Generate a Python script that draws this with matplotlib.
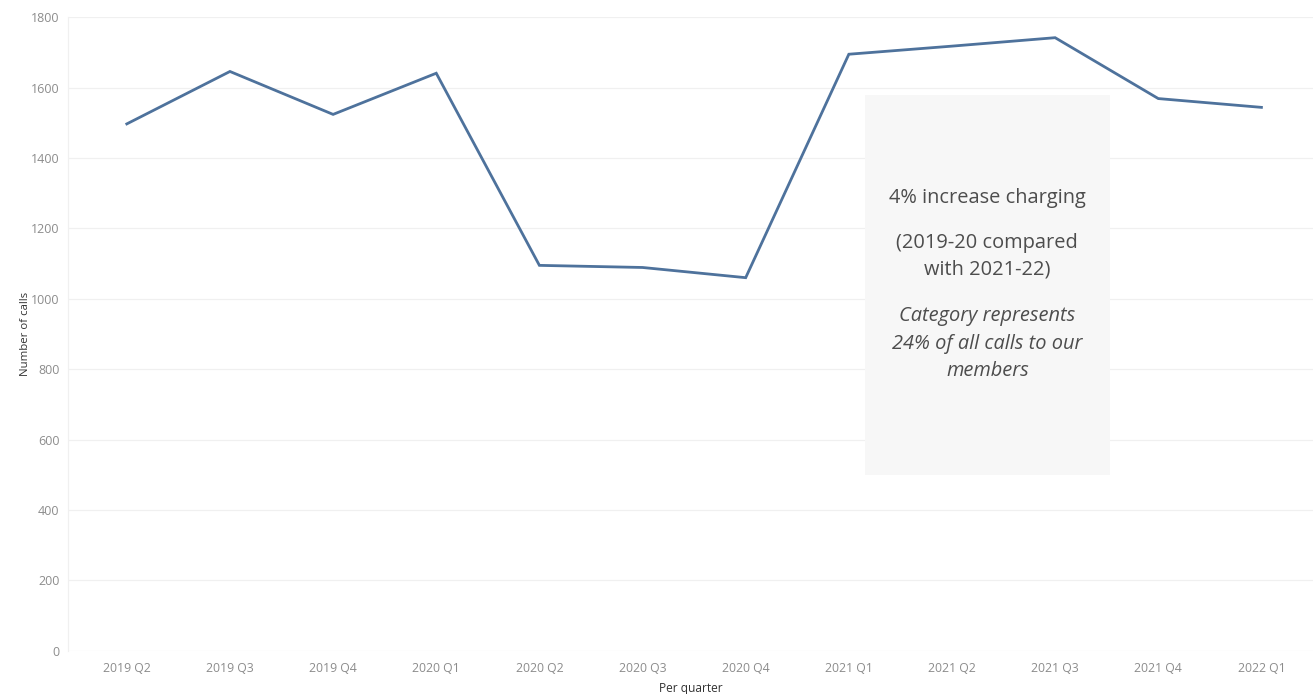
import matplotlib
matplotlib.use("Agg")
import matplotlib.pyplot as plt
from matplotlib.patches import Rectangle

plt.rcParams['font.family'] = ['Open Sans', 'DejaVu Sans']

quarters = ["2019 Q2", "2019 Q3", "2019 Q4", "2020 Q1", "2020 Q2", "2020 Q3",
            "2020 Q4", "2021 Q1", "2021 Q2", "2021 Q3", "2021 Q4", "2022 Q1"]
calls = [1497, 1646, 1524, 1641, 1095, 1089, 1060, 1695, 1718, 1742, 1569, 1544]
y_ticks = [0, 200, 400, 600, 800, 1000, 1200, 1400, 1600, 1800]

note_lines = ["4% increase charging", "(2019-20 compared", "with 2021-22)"]
note_italic = ["Category represents", "24% of all calls to our", "members"]

fig = plt.figure(figsize=(13.13, 6.94), dpi=100)
ax = fig.add_axes([0.0518, 0.0624, 0.9482, 0.9127])

x = list(range(len(quarters)))
ax.plot(x, calls, color="#4e729c", linewidth=2.0, zorder=3, solid_joinstyle="miter")

ax.set_xlim(-0.57, 11.5)
ax.set_ylim(0, 1800)
ax.set_xticks(x)
ax.set_xticklabels(quarters)
ax.set_yticks(y_ticks)
ax.set_yticklabels([str(v) for v in y_ticks])
ax.tick_params(axis="both", length=0, labelcolor="#8c8c8c")
ax.tick_params(axis="x", labelsize=8.8, pad=8.5)
ax.tick_params(axis="y", labelsize=9.0, pad=6)

ax.grid(axis="y", color="#f0f0f0", linewidth=0.9, zorder=0)
ax.set_axisbelow(True)
for side in ["top", "right", "bottom"]:
    ax.spines[side].set_visible(False)
ax.spines["left"].set_color("#f0f0f0")
ax.spines["left"].set_linewidth(0.9)

ax.set_xlabel("Per quarter", fontsize=8.6, color="#333333", labelpad=5)
ax.set_ylabel("Number of calls", fontsize=8.2, color="#333333", labelpad=0)

# annotation panel
ax.add_patch(Rectangle((7.157, 499), 2.373, 1080, facecolor="#f7f7f7",
                       edgecolor="none", zorder=1))
cx = 8.343
line_y = [1286, 1158, 1082]
italic_y = [951, 872, 795]
for txt, yy in zip(note_lines, line_y):
    ax.text(cx, yy, txt, ha="center", va="center", fontsize=14.4,
            color="#4d4d4d", zorder=2)
for txt, yy in zip(note_italic, italic_y):
    ax.text(cx, yy, txt, ha="center", va="center", fontsize=14.4,
            style="italic", color="#4d4d4d", zorder=2)

fig.savefig("out.png", dpi=100)
